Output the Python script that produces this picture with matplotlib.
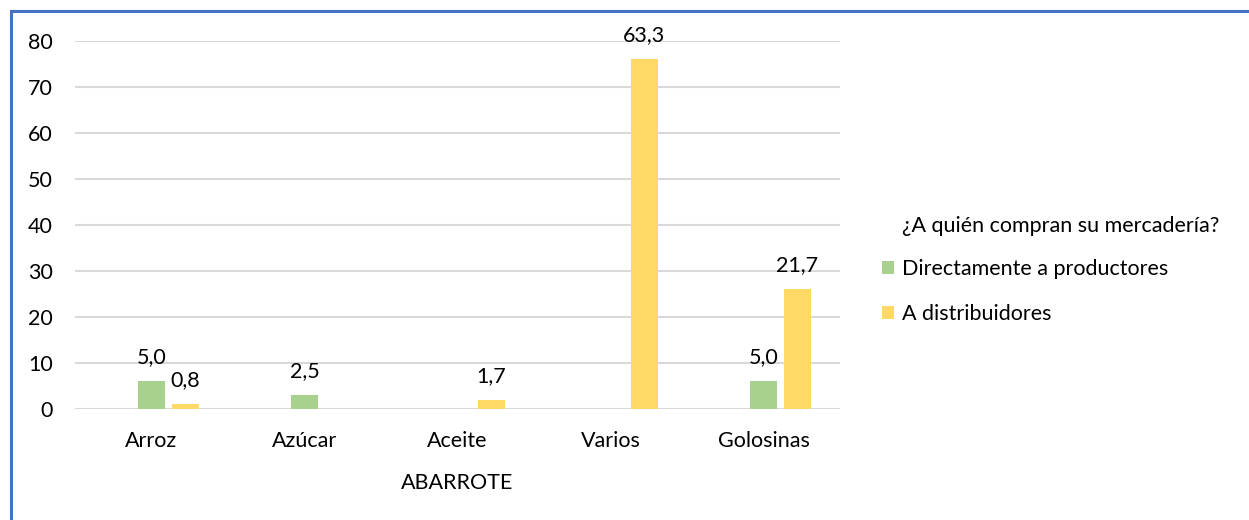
import matplotlib
matplotlib.use("Agg")
import matplotlib.pyplot as plt
from matplotlib.patches import Patch
from matplotlib.lines import Line2D
import numpy as np

categories = ["Arroz", "Azúcar", "Aceite", "Varios", "Golosinas"]
series_names = ["Directamente a productores", "A distribuidores"]
productores_heights = [6, 3, 0, 0, 6]
distribuidores_heights = [1, 0, 2, 76, 26]
productores_labels = ["5,0", "2,5", None, None, "5,0"]
distribuidores_labels = ["0,8", None, "1,7", "63,3", "21,7"]
yticks = [0, 10, 20, 30, 40, 50, 60, 70, 80]
legend_title = "¿A quién compran su mercadería?"
xlabel = "ABARROTE"

GREEN = "#A9D18E"
YELLOW = "#FFD966"
FONT = "Lato"
FS = 15.5

plt.rcParams['font.family'] = [FONT, 'DejaVu Sans']

W, H = 1249, 520
fig = plt.figure(figsize=(W / 100, H / 100), dpi=100)
ax = fig.add_axes([75 / W, (H - 409) / H, (840 - 75) / W, (409 - 41) / H])

x = np.arange(len(categories))
bw = 0.176
off = 0.222
b1 = ax.bar(x, productores_heights, bw, color=GREEN, zorder=3)
b2 = ax.bar(x + off, distribuidores_heights, bw, color=YELLOW, zorder=3)

for bars, labels in ((b1, productores_labels), (b2, distribuidores_labels)):
    for rect, lab in zip(bars, labels):
        if lab is None:
            continue
        ax.annotate(lab, (rect.get_x() + rect.get_width() / 2, rect.get_height()),
                    xytext=(0, 10), textcoords="offset points",
                    ha="center", va="bottom", fontsize=FS, color="#000000")

ax.set_xlim(-0.5, len(categories) - 0.5)
ax.set_ylim(0, 80)
ax.set_yticks(yticks)
ax.set_xticks(x)
ax.set_xticklabels(categories)
ax.tick_params(axis="both", length=0, labelsize=FS, colors="#000000")
ax.tick_params(axis="y", pad=16)
ax.tick_params(axis="x", pad=16)
ax.grid(axis="y", color="#D9D9D9", linewidth=1.5, zorder=0)
for s in ax.spines.values():
    s.set_visible(False)
ax.set_xlabel(xlabel, fontsize=FS, labelpad=16)

fig.text(902 / W, 1 - 226 / H, legend_title, fontsize=FS, va="center", ha="left")
handles = [Patch(facecolor=GREEN), Patch(facecolor=YELLOW)]
fig.legend(handles, series_names, loc="upper left", bbox_to_anchor=(882 / W, 1 - 259 / H),
           frameon=False, fontsize=FS, handlelength=0.55, handleheight=0.55,
           handletextpad=0.37, labelspacing=1.15, borderaxespad=0, borderpad=0)

# chart border (top and left)
fig.add_artist(Line2D([11 / W, 11 / W], [0, 1 - 11 / H], color="#4472C4", linewidth=2.2,
                      transform=fig.transFigure))
fig.add_artist(Line2D([11 / W, 1], [1 - 11 / H, 1 - 11 / H], color="#4472C4", linewidth=2.2,
                      transform=fig.transFigure))

fig.savefig("out.png", dpi=100, facecolor="white")
